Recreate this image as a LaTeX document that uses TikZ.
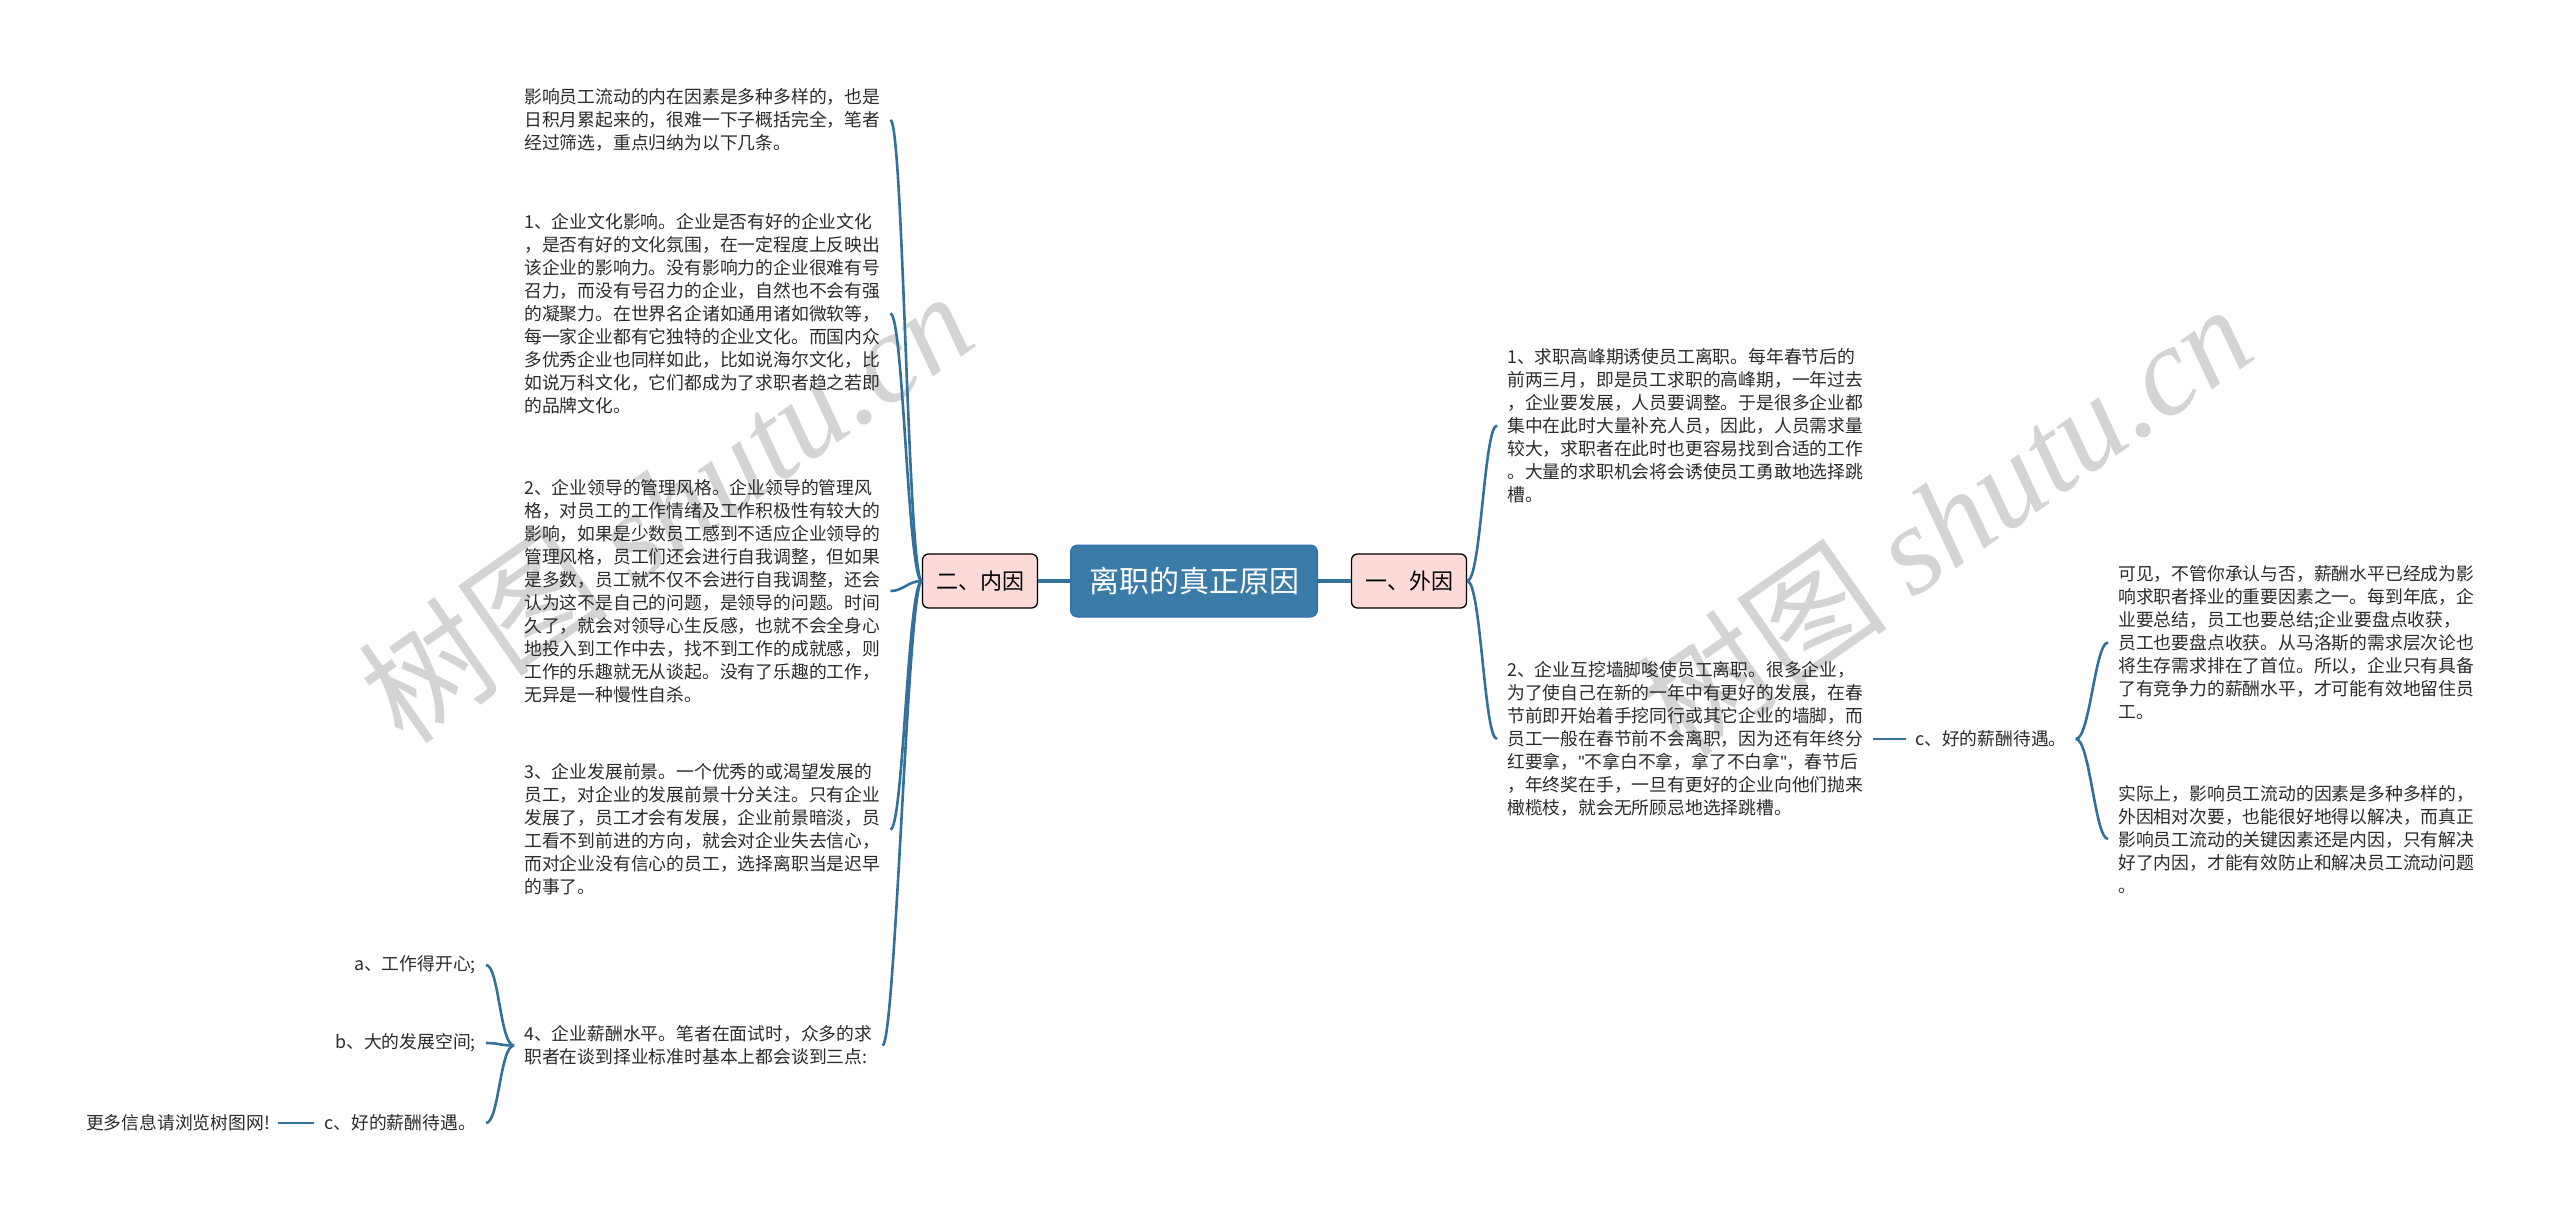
\documentclass[tikz,border=0pt]{standalone}
\usepackage{fontspec}
\setmainfont{Noto Sans CJK SC}
\newfontfamily\wmlatin{Liberation Serif}
\newfontfamily\latinsans{Liberation Sans}
\definecolor{rootblue}{HTML}{3B7BA8}
\definecolor{rootedge}{HTML}{2F6BB0}
\definecolor{linkblue}{HTML}{33709C}
\definecolor{pinkfill}{HTML}{FBDAD8}
\definecolor{txt}{HTML}{2B2B2B}
\begin{document}
\begin{tikzpicture}[x=1pt,y=-1pt,
  conn/.style={draw=linkblue, line width=2.6pt},
  mainconn/.style={draw=linkblue, line width=4pt},
  rootbox/.style={rectangle, rounded corners=7pt, fill=rootblue, draw=rootedge, line width=1pt,
    text=white, font=\fontsize{30}{36}\selectfont, minimum width=247pt, minimum height=72pt, inner sep=0pt},
  catbox/.style={rectangle, rounded corners=6pt, fill=pinkfill, draw=black, line width=1.3pt,
    text=black, font=\fontsize{22}{26}\selectfont, minimum width=115pt, minimum height=54pt, inner sep=0pt},
  para/.style={align=left, text=txt, font=\fontsize{17.8}{23}\selectfont, inner xsep=10pt, inner ysep=2pt},
  leaf/.style={text=txt, font=\fontsize{17.8}{23}\selectfont, inner xsep=10pt, inner ysep=2pt},
  wm/.style={text=black!17, font=\fontsize{126}{130}\selectfont, rotate=35, inner sep=0pt}
]
\useasboundingbox (0,0) rectangle (2560,1220);
\fill[white] (0,0) rectangle (2560,1220);

% watermarks
\node[wm] (wmA) at (665,506) {树图 {\wmlatin\itshape shutu.cn}};
\node[wm] (wmB) at (1944,519) {树图 {\wmlatin\itshape shutu.cn}};

% central nodes
\node[rootbox] (root) at (1194,581) {离职的真正原因};
\node[catbox] (nei) at (980,581) {二、内因};
\node[catbox] (wai) at (1409,581) {一、外因};

% left texts
\node[para, anchor=west] (L0) at (514,120) {影响员工流动的内在因素是多种多样的，也是\\日积月累起来的，很难一下子概括完全，笔者\\经过筛选，重点归纳为以下几条。};
\node[para, anchor=west] (L1) at (514,313.5) {1、企业文化影响。企业是否有好的企业文化\\，是否有好的文化氛围，在一定程度上反映出\\该企业的影响力。没有影响力的企业很难有号\\召力，而没有号召力的企业，自然也不会有强\\的凝聚力。在世界名企诸如通用诸如微软等，\\每一家企业都有它独特的企业文化。而国内众\\多优秀企业也同样如此，比如说海尔文化，比\\如说万科文化，它们都成为了求职者趋之若即\\的品牌文化。};
\node[para, anchor=west] (L2) at (514,591) {2、企业领导的管理风格。企业领导的管理风\\格，对员工的工作情绪及工作积极性有较大的\\影响，如果是少数员工感到不适应企业领导的\\管理风格，员工们还会进行自我调整，但如果\\是多数，员工就不仅不会进行自我调整，还会\\认为这不是自己的问题，是领导的问题。时间\\久了，就会对领导心生反感，也就不会全身心\\地投入到工作中去，找不到工作的成就感，则\\工作的乐趣就无从谈起。没有了乐趣的工作，\\无异是一种慢性自杀。};
\node[para, anchor=west] (L3) at (514,829.5) {3、企业发展前景。一个优秀的或渴望发展的\\员工，对企业的发展前景十分关注。只有企业\\发展了，员工才会有发展，企业前景暗淡，员\\工看不到前进的方向，就会对企业失去信心，\\而对企业没有信心的员工，选择离职当是迟早\\的事了。};
\node[para, anchor=west] (L4) at (514,1045.5) {4、企业薪酬水平。笔者在面试时，众多的求\\职者在谈到择业标准时基本上都会谈到三点:};

% bottom-left leaves
\node[leaf, anchor=east] (la) at (486,965) {a、工作得开心;};
\node[leaf, anchor=east] (lb) at (486,1043) {b、大的发展空间;};
\node[leaf, anchor=east] (lc) at (486,1123) {c、好的薪酬待遇。};
\node[leaf, anchor=east, inner xsep=8pt] (more) at (278,1123) {更多信息请浏览树图网!};

% right texts
\node[para, anchor=west] (R1) at (1497,425.5) {1、求职高峰期诱使员工离职。每年春节后的\\前两三月，即是员工求职的高峰期，一年过去\\，企业要发展，人员要调整。于是很多企业都\\集中在此时大量补充人员，因此，人员需求量\\较大，求职者在此时也更容易找到合适的工作\\。大量的求职机会将会诱使员工勇敢地选择跳\\槽。};
\node[para, anchor=west] (R2) at (1497,739) {2、企业互挖墙脚唆使员工离职。很多企业，\\为了使自己在新的一年中有更好的发展，在春\\节前即开始着手挖同行或其它企业的墙脚，而\\员工一般在春节前不会离职，因为还有年终分\\红要拿，{\latinsans"}不拿白不拿，拿了不白拿{\latinsans"}，春节后\\，年终奖在手，一旦有更好的企业向他们抛来\\橄榄枝，就会无所顾忌地选择跳槽。};
\node[leaf, anchor=west, inner xsep=9pt] (cR) at (1906,739) {c、好的薪酬待遇。};
\node[para, anchor=west] (R3) at (2108,642.5) {可见，不管你承认与否，薪酬水平已经成为影\\响求职者择业的重要因素之一。每到年底，企\\业要总结，员工也要总结;企业要盘点收获，\\员工也要盘点收获。从马洛斯的需求层次论也\\将生存需求排在了首位。所以，企业只有具备\\了有竞争力的薪酬水平，才可能有效地留住员\\工。};
\node[para, anchor=west] (R4) at (2108,839) {实际上，影响员工流动的因素是多种多样的，\\外因相对次要，也能很好地得以解决，而真正\\影响员工流动的关键因素还是内因，只有解决\\好了内因，才能有效防止和解决员工流动问题\\。};

% connectors
\draw[mainconn] (root.west) -- (nei.east);
\draw[mainconn] (root.east) -- (wai.west);

\foreach \t in {L0,L1,L2,L3,L4}
  \draw[conn] (nei.west) .. controls +(-14,0) and +(13,0) .. (\t.east);

\foreach \t in {la,lb,lc}
  \draw[conn] (L4.west) .. controls +(-14,0) and +(13,0) .. (\t.east);
\draw[conn] (lc.west) -- (more.east);

\foreach \t in {R1,R2}
  \draw[conn] (wai.east) .. controls +(14,0) and +(-13,0) .. (\t.west);
\draw[conn] (R2.east) -- (cR.west);
\foreach \t in {R3,R4}
  \draw[conn] (cR.east) .. controls +(14,0) and +(-13,0) .. (\t.west);
\end{tikzpicture}
\end{document}
